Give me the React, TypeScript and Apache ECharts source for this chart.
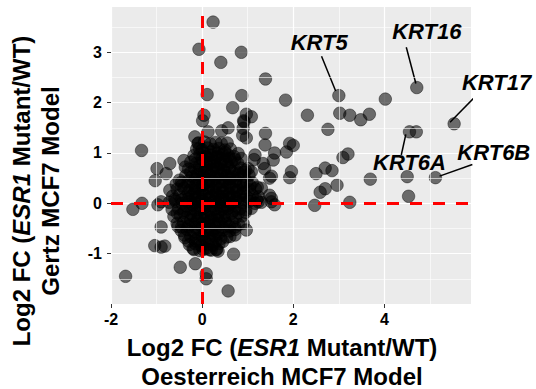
import React, { useEffect, useRef } from 'react';
import * as echarts from 'echarts';

const FONT = '"Liberation Sans", Arial, Helvetica, sans-serif';

// tick values
const xTicks = [-2, 0, 2, 4];
const yTicks = [-1, 0, 1, 2, 3];
const xMinor = [-1, 1, 3, 5];
const yMinor = [-1.5, -0.5, 0.5, 1.5, 2.5, 3.5];

// labelled genes
const krtGenes = ['KRT5', 'KRT16', 'KRT17', 'KRT6A', 'KRT6B'];
const krtPoints: [number, number][] = [[3.0, 2.14], [4.71, 2.3], [5.53, 1.58], [4.55, 1.42], [5.12, 0.51]];
const krtLabelAt: [number, number][] = [[2.57, 3.19], [4.93, 3.42], [6.46, 2.4], [4.55, 0.82], [6.4, 1.0]];
const krtLineFrom: [number, number][] = [[2.62, 2.92], [4.48, 3.1], [6.09, 2.21], [4.37, 0.96], [5.93, 0.77]];
const krtLineTo: [number, number][] = [[2.93, 2.23], [4.69, 2.38], [5.44, 1.61], [4.47, 1.37], [5.21, 0.54]];

// scattered genes outside the dense core
const outerPoints: [number, number][] = [
  [0.24, 3.6], [-0.07, 3.06], [0.86, 3.0], [0.41, 2.8], [1.39, 2.47], [0.11, 2.16], [0.87, 2.14], [1.83, 2.05],
  [0.67, 1.9], [0.04, 1.75], [0.01, 1.64], [0.97, 1.77], [1.08, 1.72], [0.91, 1.64], [2.31, 1.75], [0.43, 1.44],
  [0.57, 1.5], [0.9, 1.49], [0.89, 1.35], [0.97, 1.3], [1.39, 1.39], [-0.16, 1.32], [-1.33, 1.05], [1.92, 1.19],
  [2.0, 1.15], [1.38, 1.16], [4.02, 2.07], [3.02, 1.79], [3.24, 1.75], [3.48, 1.66], [3.67, 1.77], [2.76, 1.47],
  [3.2, 0.98], [3.09, 0.91], [-0.09, 1.19], [-0.06, 1.09], [0.13, 1.42], [0.92, 1.62], [1.85, 1.02], [1.16, 0.96],
  [1.14, 0.87], [1.59, 1.0], [1.56, 0.86], [1.34, 0.79], [1.37, 0.69], [0.79, 0.99], [0.86, 0.89], [1.01, 0.69],
  [1.08, 0.63], [1.52, 0.54], [1.48, 0.5], [1.96, 0.63], [1.92, 0.51], [2.5, 0.59], [2.7, 0.7], [2.85, 0.65],
  [2.7, 0.29], [2.59, 0.22], [1.21, 0.32], [1.3, 0.3], [1.48, 0.16], [1.52, 0.1], [2.47, -0.04], [1.23, 0.03],
  [1.52, 0.03], [1.59, -0.03], [2.96, 0.36], [3.69, 0.48], [4.5, 0.53], [4.53, 0.14], [3.24, 0.02], [4.7, 1.42],
  [-0.99, 0.69], [-0.71, 0.79], [-0.79, 0.59], [-0.4, 0.85], [-0.37, 0.72], [-1.03, 0.45], [-0.57, 0.38],
  [-0.5, 0.46], [-1.32, 0.0], [-1.52, -0.12], [-0.9, 0.03], [-0.71, 0.26], [-0.97, -0.03],
  [-0.9, -0.47], [-1.04, -0.84], [-0.9, -0.87], [-0.82, -0.85], [-1.68, -1.45], [-0.48, -1.27], [-0.15, -1.2],
  [0.09, -1.4], [0.09, -1.5], [0.57, -1.74], [-0.2, -0.9], [0.02, -0.92], [0.16, -0.92], [0.31, -0.92],
  [-0.53, -0.46], [-0.39, -0.63], [0.69, -1.01], [0.97, -0.53], [0.9, -0.4], [0.72, -0.63], [0.61, -0.66], [0.35, -0.95],
];

// dense core of genes near zero
const corePoints: [number, number][] = [
  [-0.08, 1.2], [0.05, 1.22], [0.18, 1.18], [0.3, 1.21], [0.42, 1.19], [0.55, 1.2],
  [-0.12, 1.08], [0, 1.06], [0.12, 1.1], [0.25, 1.07], [0.37, 1.09], [0.5, 1.06], [0.62, 1.08],
  [-0.18, 0.95], [-0.05, 0.97], [0.08, 0.93], [0.2, 0.96], [0.33, 0.94], [0.45, 0.97], [0.58, 0.95], [0.7, 0.93],
  [-0.25, 0.82], [-0.12, 0.8], [0.02, 0.84], [0.15, 0.81], [0.27, 0.83], [0.4, 0.8], [0.52, 0.84], [0.64, 0.82], [0.78, 0.8],
  [-0.3, 0.68], [-0.17, 0.7], [-0.04, 0.66], [0.09, 0.69], [0.22, 0.67], [0.35, 0.7], [0.47, 0.66], [0.6, 0.69], [0.72, 0.67], [0.85, 0.7], [0.95, 0.66],
  [-0.36, 0.55], [-0.22, 0.53], [-0.1, 0.57], [0.03, 0.54], [0.16, 0.56], [0.28, 0.53], [0.41, 0.57], [0.54, 0.55], [0.66, 0.53], [0.79, 0.56], [0.92, 0.54], [1.03, 0.56],
  [-0.45, 0.42], [-0.31, 0.44], [-0.18, 0.4], [-0.05, 0.43], [0.08, 0.41], [0.21, 0.44], [0.34, 0.4], [0.46, 0.43], [0.59, 0.41], [0.72, 0.44], [0.85, 0.4], [0.98, 0.43], [1.1, 0.41],
  [-0.55, 0.28], [-0.4, 0.3], [-0.27, 0.26], [-0.14, 0.29], [0, 0.27], [0.13, 0.3], [0.26, 0.26], [0.39, 0.29], [0.52, 0.27], [0.65, 0.3], [0.78, 0.26], [0.91, 0.29], [1.04, 0.27], [1.17, 0.29],
  [-0.65, 0.14], [-0.5, 0.16], [-0.36, 0.12], [-0.22, 0.15], [-0.09, 0.13], [0.05, 0.16], [0.18, 0.12], [0.31, 0.15], [0.44, 0.13], [0.57, 0.16], [0.7, 0.12], [0.83, 0.15], [0.97, 0.13], [1.1, 0.16], [1.24, 0.13],
  [-0.72, 0.02], [-0.58, 0.04], [-0.44, 0], [-0.3, 0.03], [-0.16, 0.01], [-0.03, 0.04], [0.1, 0], [0.24, 0.03], [0.37, 0.01], [0.5, 0.04], [0.63, 0], [0.77, 0.03], [0.9, 0.01], [1.03, 0.04], [1.16, 0], [1.3, 0.02],
  [-0.66, -0.12], [-0.52, -0.1], [-0.38, -0.14], [-0.24, -0.11], [-0.1, -0.13], [0.03, -0.1], [0.16, -0.14], [0.3, -0.11], [0.43, -0.13], [0.56, -0.1], [0.7, -0.14], [0.83, -0.11], [0.96, -0.13], [1.08, -0.1],
  [-0.62, -0.26], [-0.48, -0.24], [-0.34, -0.28], [-0.2, -0.25], [-0.06, -0.27], [0.07, -0.24], [0.2, -0.28], [0.34, -0.25], [0.47, -0.27], [0.6, -0.24], [0.74, -0.28], [0.88, -0.25],
  [-0.55, -0.4], [-0.41, -0.38], [-0.28, -0.42], [-0.14, -0.39], [0, -0.41], [0.13, -0.38], [0.26, -0.42], [0.39, -0.39], [0.52, -0.41], [0.66, -0.38], [0.8, -0.42],
  [-0.46, -0.54], [-0.33, -0.52], [-0.2, -0.56], [-0.06, -0.53], [0.07, -0.55], [0.2, -0.52], [0.33, -0.56], [0.46, -0.53], [0.6, -0.55], [0.72, -0.52],
  [-0.38, -0.68], [-0.25, -0.66], [-0.12, -0.7], [0.02, -0.67], [0.15, -0.69], [0.28, -0.66], [0.41, -0.7], [0.54, -0.67],
  [-0.28, -0.82], [-0.15, -0.8], [-0.02, -0.84], [0.11, -0.81], [0.24, -0.83], [0.37, -0.8],
  [-0.18, -0.92], [-0.05, -0.94], [0.08, -0.9], [0.2, -0.93], [0.32, -0.91],
  [-0.05, 0.75], [0.1, 0.76], [0.25, 0.74], [0.4, 0.77], [0.55, 0.75],
  [-0.15, 0.48], [0, 0.49], [0.15, 0.47], [0.3, 0.5], [0.45, 0.48], [0.6, 0.49], [0.75, 0.47],
  [-0.3, 0.21], [-0.15, 0.22], [0, 0.2], [0.15, 0.23], [0.3, 0.21], [0.45, 0.22], [0.6, 0.2], [0.75, 0.23], [0.9, 0.21],
  [-0.35, -0.05], [-0.2, -0.04], [-0.05, -0.06], [0.1, -0.05], [0.25, -0.04], [0.4, -0.06], [0.55, -0.05], [0.7, -0.04],
  [-0.25, -0.33], [-0.1, -0.32], [0.05, -0.34], [0.2, -0.33], [0.35, -0.32], [0.5, -0.34],
  [-0.1, -0.6], [0.05, -0.61], [0.2, -0.59], [0.35, -0.6],
  [0.05, 1.0], [0.2, 1.02], [0.35, 1.0], [0.5, 1.01],
  [-0.15, 0.88], [0.0, 0.89], [0.15, 0.87], [0.3, 0.9], [0.45, 0.88], [0.6, 0.89], [0.72, 0.87],
  [-0.25, 0.62], [-0.1, 0.61], [0.05, 0.63], [0.2, 0.6], [0.35, 0.62], [0.5, 0.61], [0.65, 0.63], [0.8, 0.6], [0.92, 0.62],
  [-0.45, 0.35], [-0.3, 0.36], [-0.15, 0.34], [0.0, 0.35], [0.15, 0.37], [0.3, 0.34], [0.45, 0.36], [0.6, 0.35], [0.75, 0.34], [0.9, 0.36], [1.05, 0.35],
  [-0.6, 0.08], [-0.45, 0.07], [-0.3, 0.09], [-0.15, 0.08], [0, 0.07], [0.15, 0.09], [0.3, 0.08], [0.45, 0.07], [0.6, 0.09], [0.75, 0.08], [0.9, 0.07], [1.05, 0.09], [1.2, 0.07],
  [-0.55, -0.19], [-0.4, -0.18], [-0.25, -0.2], [-0.1, -0.19], [0.05, -0.18], [0.2, -0.2], [0.35, -0.19], [0.5, -0.18], [0.65, -0.2], [0.8, -0.19], [0.95, -0.18],
  [-0.45, -0.47], [-0.3, -0.46], [-0.15, -0.48], [0, -0.47], [0.15, -0.46], [0.3, -0.48], [0.45, -0.47], [0.6, -0.46], [0.72, -0.47],
  [-0.3, -0.75], [-0.15, -0.74], [0, -0.76], [0.15, -0.75], [0.3, -0.74], [0.45, -0.76],
];

const titleRich = {
  b: { fontFamily: FONT, fontWeight: 'bold', fontSize: 24, fill: '#000', color: '#000', lineHeight: 29 },
  i: { fontFamily: FONT, fontWeight: 'bold', fontStyle: 'italic', fontSize: 24, fill: '#000', color: '#000', lineHeight: 29 },
};

export default function App() {
  const ref = useRef<HTMLDivElement>(null);
  useEffect(() => {
    const chart = echarts.init(ref.current!, null, { renderer: 'svg' });
    const axisCommon = {
      type: 'value' as const,
      axisLine: { show: false, onZero: false },
      axisTick: { show: true, length: 4, lineStyle: { color: '#333', width: 1 } },
      axisLabel: { color: '#000', fontFamily: FONT, fontWeight: 'bold', fontSize: 16 },
      splitLine: { show: true, lineStyle: { color: '#fff', width: 1.2 } },
    };
    const leaderSeries = krtGenes.map((g, i) => ({
      type: 'line',
      name: g + ' line',
      data: [krtLineFrom[i], krtLineTo[i]],
      showSymbol: false,
      symbol: 'none',
      clip: false,
      silent: true,
      z: 4,
      lineStyle: { color: '#000', width: 1.5 },
    }));
    chart.setOption({
      animation: false,
      grid: { left: 111, right: 65, top: 7, bottom: 85, show: true, backgroundColor: '#EBEBEB', borderWidth: 0 },
      xAxis: {
        ...axisCommon,
        min: -2,
        max: 5.9,
        interval: 2,
        axisTick: { ...axisCommon.axisTick, customValues: xTicks },
        axisLabel: { ...axisCommon.axisLabel, customValues: xTicks, margin: 7 },
      },
      yAxis: {
        ...axisCommon,
        min: -2,
        max: 3.9,
        interval: 1,
        axisTick: { ...axisCommon.axisTick, customValues: yTicks },
        axisLabel: { ...axisCommon.axisLabel, customValues: yTicks, margin: 9 },
      },
      series: [
        {
          type: 'line',
          data: [],
          z: 1,
          silent: true,
          markLine: {
            silent: true,
            symbol: ['none', 'none'],
            label: { show: false },
            lineStyle: { color: '#fff', width: 0.6, type: 'solid' },
            data: [...xMinor.map((v) => ({ xAxis: v })), ...yMinor.map((v) => ({ yAxis: v }))],
          },
        },
        {
          type: 'scatter',
          data: [...outerPoints, ...krtPoints, ...corePoints],
          symbolSize: 12.5,
          z: 2,
          silent: true,
          itemStyle: { color: 'rgba(0,0,0,0.55)', borderColor: 'rgba(0,0,0,0.7)', borderWidth: 0.6, opacity: 1 },
        },
        {
          type: 'line',
          data: [],
          z: 6,
          silent: true,
          markLine: {
            silent: true,
            symbol: ['none', 'none'],
            label: { show: false },
            lineStyle: { color: '#FF0000', width: 3, type: [12, 11] },
            data: [{ xAxis: 0 }, { yAxis: 0 }],
          },
        },
        ...leaderSeries,
        {
          type: 'scatter',
          data: krtGenes.map((g, i) => ({ name: g, value: krtLabelAt[i] })),
          symbolSize: 1,
          clip: false,
          silent: true,
          z: 7,
          itemStyle: { color: 'transparent', opacity: 1 },
          label: {
            show: true,
            position: 'inside',
            formatter: '{b}',
            color: '#000',
            fontFamily: FONT,
            fontWeight: 'bold',
            fontStyle: 'italic',
            fontSize: 22,
          },
        },
      ],
      graphic: [
        {
          type: 'text',
          x: 282,
          y: 362,
          silent: true,
          style: {
            text: '{b|Log2 FC (}{i|ESR1}{b| Mutant/WT)}\n{b|Oesterreich MCF7 Model}',
            rich: titleRich,
            align: 'center',
            verticalAlign: 'middle',
            fill: '#000',
          },
        },
        {
          type: 'text',
          x: 36,
          y: 191,
          rotation: Math.PI / 2,
          silent: true,
          style: {
            text: '{b|Log2 FC (}{i|ESR1}{b| Mutant/WT)}\n{b|Gertz MCF7 Model}',
            rich: titleRich,
            align: 'center',
            verticalAlign: 'middle',
            fill: '#000',
          },
        },
      ],
    });
    return () => chart.dispose();
  }, []);
  return <div ref={ref} style={{ position: 'absolute', left: 0, top: 0, width: 536, height: 389 }} />;
}
